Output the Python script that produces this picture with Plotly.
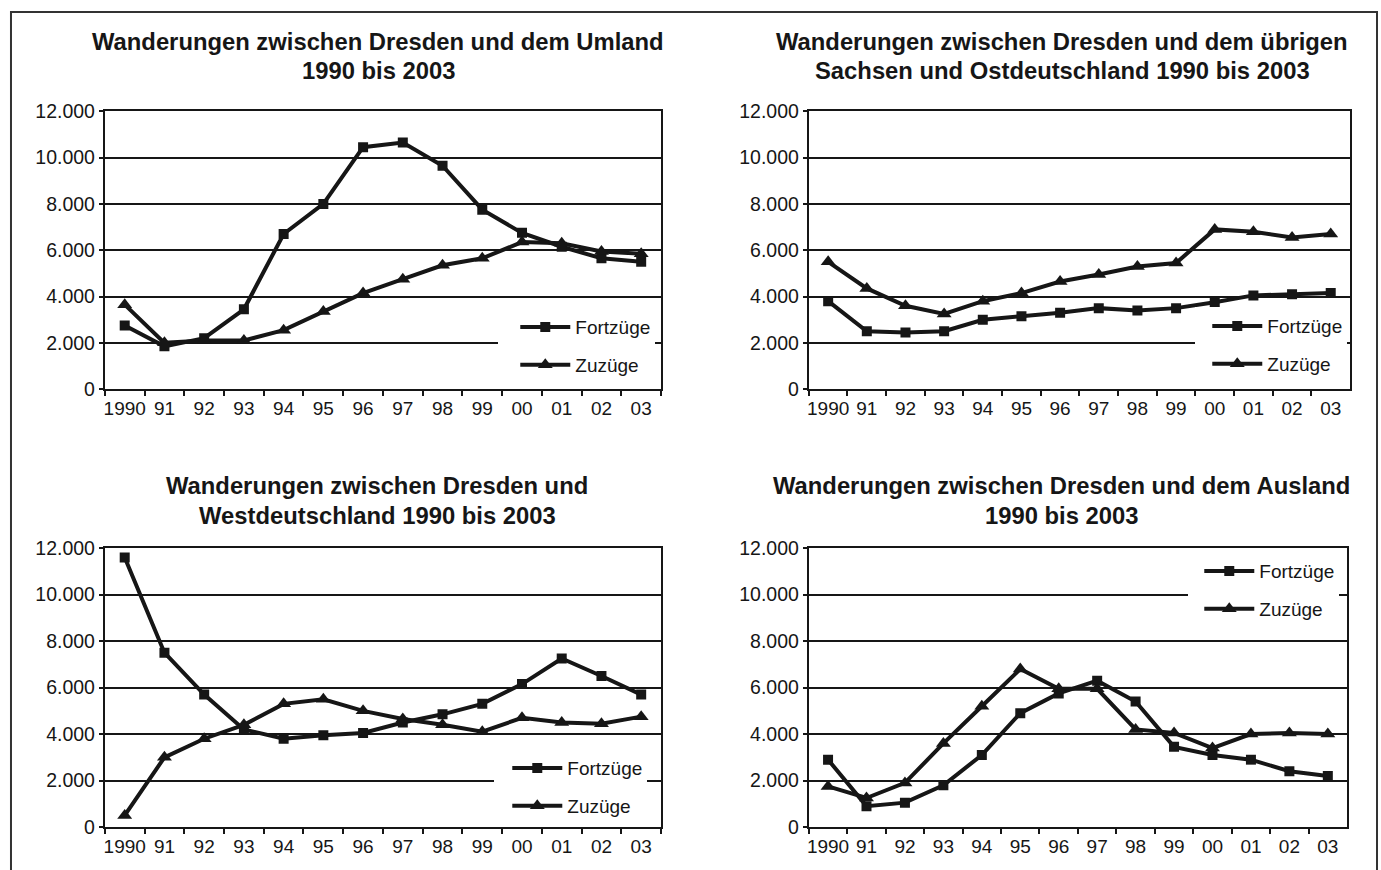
import plotly.graph_objects as go

years = ["1990", "91", "92", "93", "94", "95", "96", "97", "98", "99", "00", "01", "02", "03"]

# Panel 1: Umland
fort_umland = [2750, 1850, 2200, 3450, 6700, 8000, 10450, 10650, 9650, 7750, 6750, 6150, 5650, 5500]
zuz_umland = [3650, 2000, 2100, 2100, 2550, 3350, 4150, 4750, 5350, 5650, 6350, 6300, 5950, 5850]

# Panel 2: übriges Sachsen und Ostdeutschland
fort_ost = [3800, 2500, 2450, 2500, 3000, 3150, 3300, 3500, 3400, 3500, 3750, 4050, 4100, 4150]
zuz_ost = [5500, 4350, 3600, 3250, 3800, 4150, 4650, 4950, 5300, 5450, 6900, 6800, 6550, 6700]

# Panel 3: Westdeutschland
fort_west = [11600, 7500, 5700, 4200, 3800, 3950, 4050, 4500, 4850, 5300, 6150, 7250, 6500, 5700]
zuz_west = [500, 3000, 3800, 4400, 5300, 5500, 5000, 4650, 4400, 4100, 4700, 4500, 4450, 4750]

# Panel 4: Ausland
fort_ausland = [2900, 900, 1050, 1800, 3100, 4900, 5750, 6300, 5400, 3450, 3100, 2900, 2400, 2200]
zuz_ausland = [1750, 1250, 1900, 3600, 5200, 6800, 5950, 5950, 4200, 4050, 3400, 4000, 4050, 4000]

titles = [
    ("Wanderungen zwischen Dresden und dem Umland", "1990 bis 2003"),
    ("Wanderungen zwischen Dresden und dem übrigen", "Sachsen und Ostdeutschland 1990 bis 2003"),
    ("Wanderungen zwischen Dresden und", "Westdeutschland 1990 bis 2003"),
    ("Wanderungen zwischen Dresden und dem Ausland", "1990 bis 2003"),
]
series_names = ["Fortzüge", "Zuzüge"]

W, H = 1381, 870
INK = "#161616"
FONT = "Liberation Sans, Arial, Helvetica, sans-serif"

# the photographed page comes out slightly compressed vertically; compensate
VS, VOFF = 0.975, 9.7

def px_x(v):
    return v / W

def px_y(v):
    return 1 - ((v - VOFF) / VS) / H

panels = [
    dict(data=(fort_umland, zuz_umland), xd=(103, 660), yd=(110, 388), leg=(497, 307), ind=17, tx=377, ty=(40, 69)),
    dict(data=(fort_ost, zuz_ost), xd=(808, 1350), yd=(110, 388), leg=(1195, 306), ind=12, tx=1062, ty=(40, 69)),
    dict(data=(fort_west, zuz_west), xd=(103, 660), yd=(547, 826), leg=(493, 748), ind=13, tx=376, ty=(484, 514)),
    dict(data=(fort_ausland, zuz_ausland), xd=(808, 1347), yd=(547, 826), leg=(1188, 551), ind=11, tx=1061, ty=(484, 514)),
]

fig = go.Figure()
layout = dict(
    width=W, height=H,
    margin=dict(l=0, r=0, t=0, b=0),
    paper_bgcolor="white", plot_bgcolor="white",
    separators=",.",
    font=dict(family=FONT, size=19, color=INK),
    showlegend=True,
    annotations=[],
    shapes=[],
)

symbols = ["square", "triangle-up"]
sizes = [10, 13]
for i, p in enumerate(panels):
    n = "" if i == 0 else str(i + 1)
    xa, ya = "x" + n, "y" + n
    legname = "legend" + n
    for k in range(2):
        fig.add_trace(go.Scatter(
            x=years, y=p["data"][k], name=series_names[k],
            mode="lines+markers", xaxis=xa, yaxis=ya,
            line=dict(color=INK, width=4),
            marker=dict(symbol=symbols[k], size=sizes[k], color=INK),
            legend=legname, legendgroup=f"g{i}{k}",
        ))
    layout["xaxis" + n] = dict(
        domain=[px_x(p["xd"][0]), px_x(p["xd"][1])], anchor=ya,
        type="category", range=[-0.5, 13.5], tickson="boundaries",
        ticks="outside", ticklen=5, tickwidth=2, tickcolor=INK, tickangle=0,
        ticklabelstandoff=1,
        showline=True, linecolor=INK, linewidth=2, mirror=True,
        showgrid=False, zeroline=False, fixedrange=True,
        tickfont=dict(size=19, family=FONT, color=INK),
    )
    layout["yaxis" + n] = dict(
        domain=[px_y(p["yd"][1]), px_y(p["yd"][0])], anchor=xa,
        range=[0, 12000], dtick=2000, tick0=0, tickformat=",d",
        ticks="outside", ticklen=4, tickwidth=2, tickcolor=INK,
        showline=True, linecolor=INK, linewidth=2, mirror=True,
        showgrid=True, gridcolor=INK, gridwidth=2, zeroline=False,
        fixedrange=True,
        tickfont=dict(size=19.5, family=FONT, color=INK),
    )
    layout[legname] = dict(
        x=px_x(p["leg"][0]), y=px_y(p["leg"][1]), xanchor="left", yanchor="top",
        bgcolor="white", borderwidth=0, traceorder="grouped", tracegroupgap=10,
        indentation=p["ind"],
        itemwidth=50, font=dict(size=19, family=FONT, color=INK),
    )
    for j, line in enumerate(titles[i]):
        layout["annotations"].append(dict(
            text="<b>" + line + "</b>", x=px_x(p["tx"]), y=px_y(p["ty"][j]),
            xref="paper", yref="paper", xanchor="center", yanchor="middle",
            showarrow=False, font=dict(size=23.8, family=FONT, color=INK),
        ))

layout["shapes"].append(dict(
    type="rect", xref="paper", yref="paper",
    x0=px_x(9), x1=px_x(1377), y0=-0.1, y1=1 - 1.0 / H,
    line=dict(color="#333333", width=2), fillcolor="rgba(0,0,0,0)", layer="above",
))

fig.update_layout(**layout)
pin = (
    "document.documentElement.style.margin='0';"
    "document.body.style.margin='0';"
    "document.body.style.overflow='hidden';"
    "var g=document.getElementsByClassName('plotly-graph-div')[0];"
    "g.style.position='fixed';g.style.top='0px';g.style.left='0px';"
)
fig.write_html("out.html", config={"displayModeBar": False}, post_script=pin)
